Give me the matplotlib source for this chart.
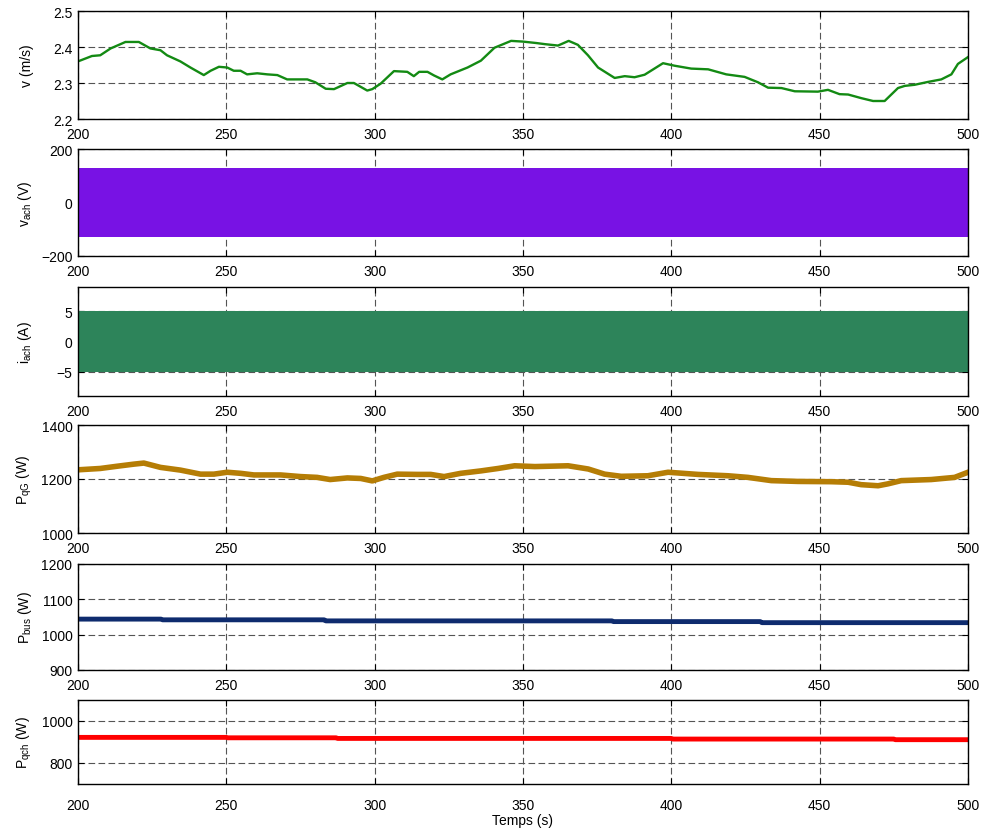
import numpy as np
import matplotlib.pyplot as plt

plt.rcParams['font.family'] = ['Liberation Sans', 'DejaVu Sans']
plt.rcParams['font.size'] = 10

# wind speed v (m/s)
v_t = [200, 204.7, 207.5, 211, 216, 220.5, 224.4, 227.8, 230, 234.5, 237.9, 242.4,
       244.7, 247.5, 250.3, 252.5, 254.8, 257, 260.4, 263.8, 267.2, 270.5, 277.3,
       280, 283.5, 286.3, 290.8, 293, 297.5, 299.2, 302, 306.5, 308.8, 311, 313.2,
       315, 317.8, 320, 322.8, 325.6, 331.3, 335.8, 340.4, 346, 350, 354.5, 357.3,
       361.8, 365.4, 368.5, 371.9, 375.3, 380.9, 384.3, 387.6, 391, 397.2, 401.1,
       406.7, 412.4, 418.5, 424.7, 429.2, 432.6, 437.1, 441.6, 449.4, 452.8, 456.7,
       459.6, 464, 468, 471.9, 476.4, 478.7, 482, 486.5, 491, 494.4, 496.6, 500]
v_val = [2.360, 2.375, 2.377, 2.396, 2.414, 2.414, 2.396, 2.391, 2.377, 2.360, 2.343,
         2.322, 2.334, 2.345, 2.343, 2.334, 2.334, 2.324, 2.327, 2.324, 2.322, 2.310,
         2.310, 2.302, 2.284, 2.283, 2.300, 2.300, 2.279, 2.283, 2.298, 2.333, 2.332,
         2.331, 2.319, 2.331, 2.331, 2.321, 2.310, 2.324, 2.343, 2.362, 2.398, 2.417,
         2.415, 2.411, 2.408, 2.404, 2.417, 2.406, 2.377, 2.343, 2.314, 2.319, 2.316,
         2.323, 2.355, 2.348, 2.340, 2.338, 2.324, 2.317, 2.302, 2.287, 2.286, 2.277,
         2.276, 2.281, 2.269, 2.268, 2.258, 2.250, 2.250, 2.286, 2.292, 2.295, 2.303,
         2.310, 2.324, 2.353, 2.372]

# AC load voltage / current envelopes (dense 50 Hz signal)
ac_t = [200, 500]
vach_upper = [130, 130]
vach_lower = [-129, -129]
iach_upper = [5, 5]
iach_lower = [-5, -5]

# generator power P_qG (W)
pqg_t = [200, 207.5, 213, 218.8, 222.2, 227.8, 234.5, 241.3, 245.8, 250.3, 254.8,
         259.3, 268.3, 275, 280.6, 285, 290.8, 295.3, 299.2, 303.1, 307.6, 314.4,
         318.9, 323.4, 329, 335.8, 341.6, 347.2, 354, 365.2, 372, 377.5, 383.1,
         392.1, 398.9, 409, 419.1, 425.8, 433.7, 442.7, 453.9, 459.6, 464, 469.7,
         473, 477.5, 487.6, 495.5, 500]
pqg_val = [1234, 1239, 1247, 1255, 1259, 1243, 1233, 1218, 1218, 1225, 1221, 1215,
           1215, 1209, 1206, 1198, 1204, 1202, 1193, 1206, 1218, 1217, 1217, 1209,
           1221, 1230, 1239, 1249, 1246, 1249, 1237, 1218, 1210, 1212, 1225, 1217,
           1212, 1206, 1194, 1191, 1190, 1188, 1179, 1175, 1182, 1194, 1198, 1206,
           1225]

# bus power P_bus (W)
pbus_t = [200, 228, 228.5, 283, 283.5, 380, 380.5, 430, 430.5, 500]
pbus_val = [1044, 1044, 1042, 1042, 1039, 1039, 1037, 1037, 1034, 1034]

# load power P_qch (W)
pqch_t = [200, 250, 250.5, 287, 287.5, 400, 400.5, 475, 475.5, 500]
pqch_val = [922, 922, 920, 920, 917, 917, 914, 914, 911, 911]

xticks = [200, 250, 300, 350, 400, 450, 500]

fig = plt.figure(figsize=(9.83, 8.29), dpi=100)
H = 829.0
left, width = 78 / 983, 890 / 983
panels = [(12, 120), (150, 257), (288, 397), (426, 534), (565, 671), (701, 785)]
axes = []
for top, bot in panels:
    ax = fig.add_axes([left, 1 - bot / H, width, (bot - top) / H])
    axes.append(ax)

grid_kw = dict(color='#555555', linestyle=(0, (6, 3)), linewidth=0.8)

ax = axes[0]
ax.plot(v_t, v_val, color='#138a13', lw=1.7)
ax.set_ylim(2.2, 2.5)
ax.set_yticks([2.2, 2.3, 2.4, 2.5])
ax.set_ylabel('v (m/s)')

ax = axes[1]
ax.fill_between(ac_t, vach_lower, vach_upper, color='#7812e4', lw=0)
ax.set_ylim(-200, 200)
ax.set_yticks([-200, 0, 200])
ax.set_ylabel(r'$\mathregular{v_{ach}}$ (V)')

ax = axes[2]
ax.fill_between(ac_t, iach_lower, iach_upper, color='#2d845a', lw=0)
ax.set_ylim(-9, 9)
ax.set_yticks([-5, 0, 5])
ax.set_ylabel(r'$\mathregular{i_{ach}}$ (A)')

ax = axes[3]
ax.plot(pqg_t, pqg_val, color='#b57d05', lw=4)
ax.set_ylim(1000, 1400)
ax.set_yticks([1000, 1200, 1400])
ax.set_ylabel(r'$\mathregular{P_{qG}}$ (W)')

ax = axes[4]
ax.plot(pbus_t, pbus_val, color='#0e2b6e', lw=3.5)
ax.set_ylim(900, 1200)
ax.set_yticks([900, 1000, 1100, 1200])
ax.set_ylabel(r'$\mathregular{P_{bus}}$ (W)')

ax = axes[5]
ax.plot(pqch_t, pqch_val, color='#ff0000', lw=3.5)
ax.set_ylim(700, 1100)
ax.set_yticks([800, 1000])
ax.set_ylabel(r'$\mathregular{P_{qch}}$ (W)')

for ax in axes:
    ax.set_xlim(200, 500)
    ax.set_xticks(xticks)
    ax.set_axisbelow(True)
    ax.grid(True, **grid_kw)
    ax.tick_params(direction='in', top=True, right=True, length=4, width=0.8,
                   labelsize=10)
    ax.tick_params(axis='y', pad=4)
    ax.tick_params(axis='x', pad=6)
    for s in ax.spines.values():
        s.set_linewidth(1.0)
    ax.yaxis.set_label_coords(-0.05, 0.5)

axes[5].tick_params(axis='x', pad=10)
axes[5].set_xlabel('Temps (s)', labelpad=1)

fig.savefig('out.png', dpi=100)
